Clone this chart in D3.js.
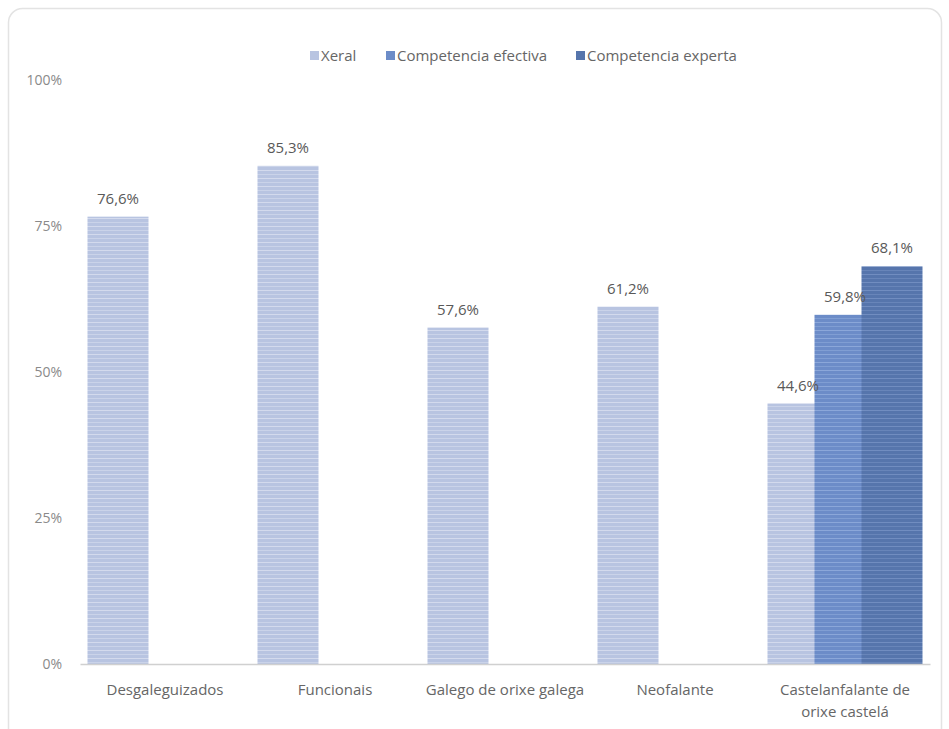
<!DOCTYPE html>
<html><head><meta charset="utf-8">
<script src="https://cdn.jsdelivr.net/npm/d3@7"></script>
<style>body{margin:0;background:#fff;}svg{display:block;font-family:"Open Sans",sans-serif;}</style>
</head><body>
<svg id="c" width="949" height="729"></svg>
<script>
const categories = ["Desgaleguizados","Funcionais","Galego de orixe galega","Neofalante","Castelanfalante de orixe castelá"];
const seriesNames = ["Xeral","Competencia efectiva","Competencia experta"];
const xeral = [76.6, 85.3, 57.6, 61.2, 44.6];
const efectiva = [null, null, null, null, 59.8];
const experta = [null, null, null, null, 68.1];
const yTicks = [0, 25, 50, 75, 100];
const colors = ["#b8c4e1", "#6c8cc8", "#5675ac"];
const stripe = ["#d6ddef", "#8eaadb", "#7590c2"];

const svg = d3.select("#c");
svg.append("rect").attr("x",8.5).attr("y",8.5).attr("width",933).attr("height",740)
  .attr("rx",14).attr("fill","#fff").attr("stroke","#e3e3e3").attr("stroke-width",1.5);

const defs = svg.append("defs");
colors.forEach((c,i)=>{
  const p = defs.append("pattern").attr("id","p"+i).attr("patternUnits","userSpaceOnUse")
    .attr("width",10).attr("height",8);
  p.append("rect").attr("width",10).attr("height",8).attr("fill",c);
  p.append("rect").attr("y",2).attr("width",10).attr("height",1).attr("fill",stripe[i]).attr("opacity",0.9);
  p.append("rect").attr("y",6).attr("width",10).attr("height",1).attr("fill",stripe[i]).attr("opacity",0.6);
});

const m = {left:80, right:19, top:80, bottom:65};
const W = 949, H = 729;
const x0 = d3.scaleBand().domain(categories).range([m.left, W-m.right]).padding(0);
const x1 = d3.scalePoint().domain(seriesNames).range([-47, 47]);
const barW = 61;
const y = d3.scaleLinear().domain([0,100]).range([H-m.bottom, m.top]);

const yAxis = d3.axisLeft(y).tickValues(yTicks).tickSize(0).tickPadding(18).tickFormat(d=>d+"%");
const ga = svg.append("g").attr("transform",`translate(${m.left},0)`).call(yAxis);
ga.select(".domain").remove();
ga.selectAll("text").attr("fill","#8a8a8a").style("font-size","14px").style("font-family","'Open Sans',sans-serif");

const data = [];
const vals = [xeral, efectiva, experta];
categories.forEach((c,ci)=>{
  seriesNames.forEach((s,si)=>{
    const v = vals[si][ci];
    if (v!=null) data.push({c, s, si, v});
  });
});

svg.append("g").selectAll("rect").data(data).join("rect")
  .attr("x", d=>x0(d.c)+x0.bandwidth()/2 + x1(d.s) - barW/2)
  .attr("y", d=>y(d.v))
  .attr("width", barW)
  .attr("height", d=>y(0)-y(d.v))
  .attr("fill", d=>`url(#p${d.si})`);

const xAxis = d3.axisBottom(x0).tickSize(0).tickFormat("");
const gx = svg.append("g").attr("transform",`translate(0,${y(0)})`).call(xAxis);
gx.select(".domain").attr("stroke","#d0d0d0").attr("stroke-width",1.5);

const catLines = {"Castelanfalante de orixe castelá":["Castelanfalante de","orixe castelá"]};
categories.forEach(c=>{
  const lines = catLines[c] || [c];
  const t = svg.append("text").attr("text-anchor","middle").attr("fill","#666")
    .style("font-size","15px");
  lines.forEach((l,i)=>{
    t.append("tspan").attr("x", x0(c)+x0.bandwidth()/2).attr("y", y(0)+31+i*22).text(l);
  });
});

svg.append("g").selectAll("text").data(data).join("text")
  .attr("x", d=>x0(d.c)+x0.bandwidth()/2 + x1(d.s))
  .attr("y", d=>y(d.v)-13)
  .attr("text-anchor","middle").attr("fill","#595959").style("font-size","15px")
  .text(d=>d.v.toFixed(1).replace(".",",")+"%");

const legX = [310, 386, 576];
const lg = svg.append("g");
seriesNames.forEach((s,i)=>{
  lg.append("rect").attr("x",legX[i]).attr("y",51).attr("width",9).attr("height",9).attr("fill",colors[i]);
  lg.append("text").attr("x",legX[i]+11).attr("y",61).attr("fill","#666").style("font-size","15px").text(s);
});
</script>
</body></html>
